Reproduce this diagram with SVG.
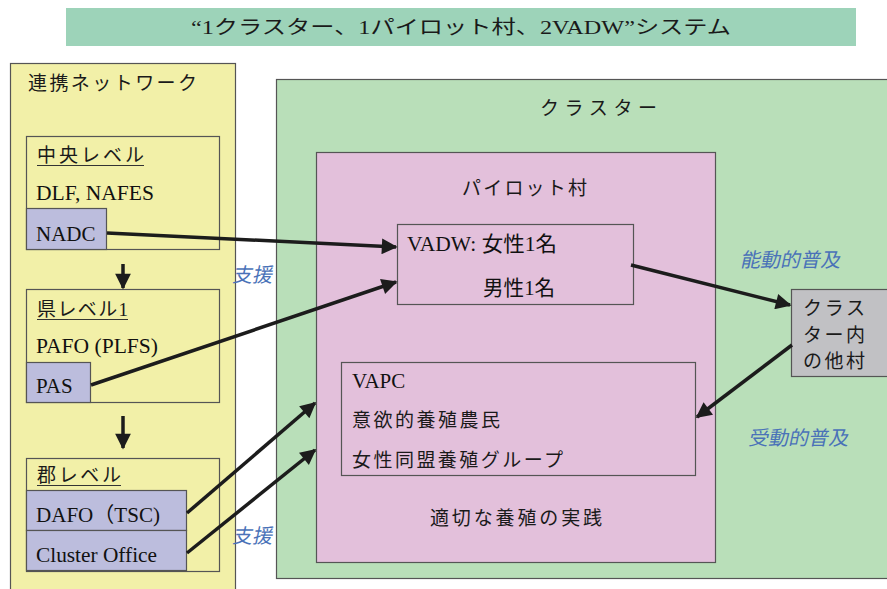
<svg xmlns="http://www.w3.org/2000/svg" width="887" height="589" viewBox="0 0 887 589">
  <style>
    .box { stroke: #555; stroke-width: 1.2; }
    .jp { font-family: "Liberation Serif", "Noto Sans CJK JP", serif; font-size: 19px; fill: #1a1a1a; }
    .lat { font-family: "Liberation Serif", "Noto Sans CJK JP", serif; font-size: 21px; fill: #111; }
    .note { font-family: "Noto Sans CJK JP", sans-serif; font-size: 20px; fill: #4a72b8; }
    .conn { stroke: #1c1c1c; stroke-width: 3.5; fill: none; marker-end: url(#head); }
    .ul { stroke: #333; stroke-width: 1; }
  </style>
  <defs>
    <marker id="head" viewBox="0 0 10 10" refX="9" refY="5" markerWidth="5.5" markerHeight="4.5" orient="auto" markerUnits="strokeWidth">
      <path d="M0,0 L10,5 L0,10 Z" fill="#1c1c1c"/>
    </marker>
  </defs>
  <rect width="887" height="589" fill="#fff"/>

  <!-- title banner -->
  <g id="title">
    <rect x="66" y="8" width="790" height="38" fill="#9dd3b9"/>
    <text x="461" y="34" text-anchor="middle" class="jp" font-size="22" textLength="540" lengthAdjust="spacingAndGlyphs">“1クラスター、1パイロット村、2VADW”システム</text>
  </g>

  <!-- support network column -->
  <g id="network">
    <rect x="10.5" y="63.5" width="225" height="530" fill="#f2f0a8" class="box"/>
    <text x="28" y="90" class="jp" font-size="20" textLength="169" lengthAdjust="spacing">連携ネットワーク</text>
  </g>

  <g id="central">
    <rect x="26.5" y="136.5" width="193" height="113" fill="#f2f0a8" class="box"/>
    <text x="37" y="162" class="jp" textLength="107" lengthAdjust="spacing">中央レベル</text>
    <line x1="37" y1="165.5" x2="144" y2="165.5" class="ul"/>
    <text x="36" y="200" class="lat" textLength="118" lengthAdjust="spacingAndGlyphs">DLF, NAFES</text>
  </g>
  <g id="nadc">
    <rect x="26.5" y="208.5" width="80" height="41" fill="#bcbddd" class="box"/>
    <text x="36" y="241" class="lat">NADC</text>
  </g>

  <g id="province">
    <rect x="26.5" y="289.5" width="193" height="113" fill="#f2f0a8" class="box"/>
    <text x="37" y="316" class="jp" textLength="91" lengthAdjust="spacing">県レベル1</text>
    <line x1="37" y1="319.5" x2="128" y2="319.5" class="ul"/>
    <text x="36" y="353" class="lat" textLength="122" lengthAdjust="spacingAndGlyphs">PAFO (PLFS)</text>
  </g>
  <g id="pas">
    <rect x="26.5" y="362.5" width="64" height="40" fill="#bcbddd" class="box"/>
    <text x="36" y="393" class="lat">PAS</text>
  </g>

  <g id="district">
    <rect x="26.5" y="458.5" width="193" height="113" fill="#f2f0a8" class="box"/>
    <text x="37" y="482" class="jp" textLength="84" lengthAdjust="spacing">郡レベル</text>
    <line x1="37" y1="485.5" x2="121" y2="485.5" class="ul"/>
  </g>
  <g id="dafo">
    <rect x="26.5" y="490.5" width="160" height="40" fill="#bcbddd" class="box"/>
    <text x="36" y="522" class="lat" textLength="124" lengthAdjust="spacingAndGlyphs">DAFO（TSC)</text>
  </g>
  <g id="cluster-office">
    <rect x="26.5" y="530.5" width="160" height="40" fill="#bcbddd" class="box"/>
    <text x="36" y="562" class="lat" textLength="121" lengthAdjust="spacingAndGlyphs">Cluster Office</text>
  </g>

  <!-- cluster area -->
  <g id="cluster">
    <rect x="276.5" y="79.5" width="615" height="499" fill="#b9dfb9" class="box"/>
    <text x="540" y="115" class="jp" font-size="21" textLength="117" lengthAdjust="spacing">クラスター</text>
  </g>

  <g id="pilot-village">
    <rect x="316.5" y="152.5" width="399" height="410" fill="#e3c0db" class="box"/>
    <text x="462" y="195" class="jp" textLength="125" lengthAdjust="spacing">パイロット村</text>
    <text x="430" y="525" class="jp" textLength="172" lengthAdjust="spacing">適切な養殖の実践</text>
  </g>

  <g id="vadw">
    <rect x="397.5" y="224.5" width="236" height="80" fill="#e3c0db" class="box"/>
    <text x="407" y="251" class="lat" textLength="150" lengthAdjust="spacingAndGlyphs">VADW: 女性1名</text>
    <text x="483" y="295" class="lat" textLength="72" lengthAdjust="spacingAndGlyphs">男性1名</text>
  </g>

  <g id="vapc">
    <rect x="341.5" y="362.5" width="354" height="113" fill="#e3c0db" class="box"/>
    <text x="352" y="388" class="lat">VAPC</text>
    <text x="352" y="427" class="jp" textLength="148" lengthAdjust="spacing">意欲的養殖農民</text>
    <text x="352" y="467" class="jp" textLength="211" lengthAdjust="spacing">女性同盟養殖グループ</text>
  </g>

  <g id="other-villages">
    <rect x="791.5" y="289.5" width="100" height="87" fill="#c1c1c4" class="box"/>
    <text x="803" y="315" class="jp" font-size="20" textLength="62" lengthAdjust="spacing">クラス</text>
    <text x="803" y="342" class="jp" font-size="20" textLength="62" lengthAdjust="spacing">ター内</text>
    <text x="803" y="368" class="jp" font-size="20" textLength="62" lengthAdjust="spacing">の他村</text>
  </g>

  <!-- flow labels, slanted -->
  <g id="labels">
    <text class="note" transform="translate(232 282) skewX(-12)">支援</text>
    <text class="note" transform="translate(232 543) skewX(-12)">支援</text>
    <text class="note" transform="translate(740 267) skewX(-12)">能動的普及</text>
    <text class="note" transform="translate(748 445) skewX(-12)">受動的普及</text>
  </g>

  <!-- connectors -->
  <g id="connectors">
    <line x1="123" y1="264" x2="123" y2="288" class="conn"/>
    <line x1="123" y1="416" x2="123" y2="448" class="conn"/>
    <line x1="107" y1="233" x2="396" y2="247" class="conn"/>
    <line x1="91" y1="385" x2="396" y2="282" class="conn"/>
    <line x1="187" y1="513" x2="315" y2="403" class="conn"/>
    <line x1="187" y1="553" x2="315" y2="450" class="conn"/>
    <line x1="631" y1="265" x2="790" y2="305" class="conn"/>
    <line x1="792" y1="345" x2="697" y2="417" class="conn"/>
  </g>
</svg>
